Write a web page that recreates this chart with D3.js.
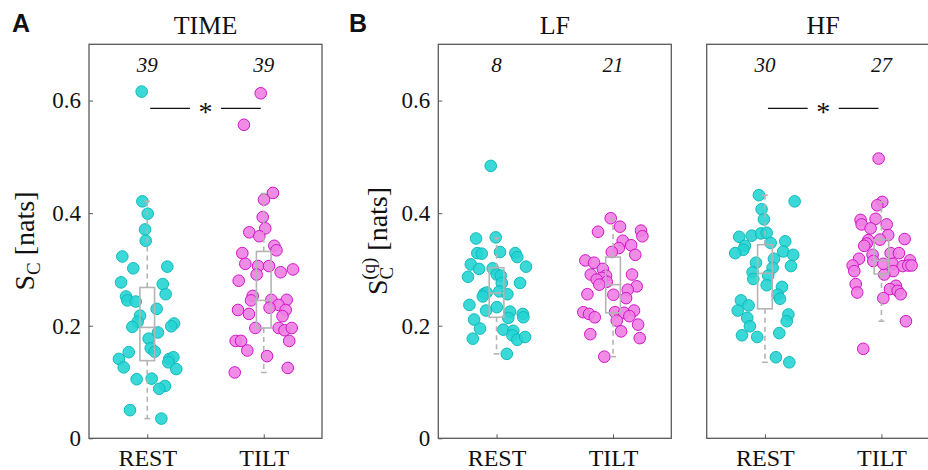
<!DOCTYPE html>
<html>
<head>
<meta charset="utf-8">
<script src="https://cdn.jsdelivr.net/npm/d3@7"></script>
<style>
  body { margin: 0; background: #fff; }
  text { font-family: "Liberation Serif", "Times New Roman", serif; fill: #111; }
</style>
</head>
<body>
<div id="chart"></div>
<script>
// values: [S_C value, horizontal jitter in category units]
var timeRest = [[0.616,-0.048],[0.421,-0.042],[0.399,0.004],[0.371,-0.019],[0.351,-0.013],[0.323,-0.214],[0.302,-0.12],[0.305,0.172],[0.277,-0.225],[0.274,0.133],[0.256,0.158],[0.252,-0.182],[0.245,-0.171],[0.243,-0.099],[0.230,0.081],[0.218,-0.062],[0.207,-0.082],[0.198,-0.128],[0.204,0.230],[0.199,0.206],[0.188,0.092],[0.177,0.012],[0.160,0.030],[0.154,0.064],[0.153,-0.159],[0.141,-0.243],[0.126,-0.202],[0.141,0.189],[0.144,0.224],[0.135,0.181],[0.123,0.249],[0.105,-0.091],[0.106,0.038],[0.093,0.152],[0.088,0.103],[0.050,-0.148],[0.035,0.121]];
var timeTilt = [[0.613,-0.026],[0.557,-0.17],[0.436,0.079],[0.424,0.002],[0.393,-0.009],[0.373,0.013],[0.366,-0.124],[0.359,-0.038],[0.342,0.091],[0.334,0.109],[0.329,-0.184],[0.310,-0.158],[0.306,-0.049],[0.306,0.045],[0.291,-0.061],[0.295,0.145],[0.300,0.251],[0.280,-0.215],[0.253,-0.095],[0.245,-0.109],[0.246,0.065],[0.246,0.197],[0.237,0.127],[0.232,0.05],[0.228,0.188],[0.228,-0.221],[0.221,-0.127],[0.217,0.161],[0.196,-0.072],[0.196,0.128],[0.192,0.178],[0.196,0.24],[0.173,0.219],[0.173,-0.241],[0.173,-0.195],[0.156,-0.141],[0.146,0.028],[0.117,-0.249],[0.125,0.206]];
var lfRest = [[0.484,-0.05],[0.355,-0.176],[0.357,-0.007],[0.331,0.03],[0.329,-0.165],[0.328,-0.127],[0.329,0.161],[0.322,0.178],[0.309,-0.221],[0.305,0.253],[0.301,-0.15],[0.302,-0.033],[0.287,-0.245],[0.291,0.002],[0.289,0.036],[0.276,0.045],[0.276,0.202],[0.257,-0.105],[0.259,-0.084],[0.261,0.024],[0.256,0.093],[0.252,-0.118],[0.237,-0.233],[0.233,0.002],[0.227,-0.09],[0.225,0.116],[0.221,0.225],[0.215,0.230],[0.211,-0.193],[0.214,0.101],[0.195,-0.142],[0.193,0.058],[0.191,0.144],[0.183,0.136],[0.177,-0.204],[0.175,0.178],[0.180,0.245],[0.150,0.088]];
var lfTilt = [[0.391,-0.02],[0.376,0.06],[0.367,-0.129],[0.369,0.24],[0.359,0.252],[0.351,0.083],[0.343,0.155],[0.338,0.049],[0.331,-0.011],[0.326,0.191],[0.316,-0.238],[0.312,-0.163],[0.301,-0.088],[0.291,-0.191],[0.291,0.163],[0.289,-0.06],[0.285,-0.097],[0.282,-0.14],[0.278,-0.054],[0.273,-0.118],[0.270,0.203],[0.264,0.126],[0.256,-0.22],[0.255,0.003],[0.249,0.112],[0.224,-0.255],[0.221,-0.206],[0.215,-0.157],[0.224,0.017],[0.227,0.18],[0.223,0.094],[0.217,0.14],[0.209,0.032],[0.202,0.215],[0.185,-0.195],[0.190,0.069],[0.178,0.229],[0.145,-0.075]];
var hfRest = [[0.432,-0.052],[0.421,0.255],[0.407,-0.029],[0.389,-0.009],[0.358,-0.221],[0.360,-0.114],[0.364,-0.034],[0.365,0.015],[0.342,-0.172],[0.335,-0.186],[0.329,-0.255],[0.347,0.049],[0.350,0.174],[0.332,0.157],[0.326,0.243],[0.319,0.077],[0.306,0.223],[0.312,-0.077],[0.303,0.066],[0.295,-0.106],[0.283,-0.1],[0.289,0.028],[0.272,0.015],[0.269,0.146],[0.255,0.109],[0.248,0.129],[0.245,-0.206],[0.236,-0.14],[0.227,-0.234],[0.220,0.201],[0.208,0.187],[0.214,-0.152],[0.199,-0.129],[0.187,0.123],[0.183,-0.197],[0.180,-0.066],[0.144,0.094],[0.135,0.209]];
var hfTilt = [[0.497,-0.024],[0.420,0.007],[0.414,-0.036],[0.388,-0.179],[0.380,-0.17],[0.390,-0.05],[0.373,-0.093],[0.380,0.045],[0.361,0.058],[0.354,0.199],[0.352,-0.113],[0.346,-0.127],[0.342,-0.148],[0.353,-0.013],[0.329,0.079],[0.329,0.15],[0.326,-0.076],[0.319,-0.193],[0.315,-0.07],[0.310,0.096],[0.316,0.245],[0.306,0.182],[0.307,0.23],[0.307,0.259],[0.307,-0.247],[0.297,-0.233],[0.297,0.101],[0.291,0.024],[0.310,0.016],[0.274,-0.221],[0.259,-0.208],[0.271,0.124],[0.265,0.073],[0.262,0.139],[0.256,0.165],[0.249,0.016],[0.208,0.21],[0.159,-0.156]];

// box stats: [lower whisker, q1, median, q3, upper whisker]
var timeBox = [[0.035,0.138,0.197,0.268,0.421],[0.117,0.196,0.245,0.332,0.435]];
var lfBox   = [[0.150,0.215,0.258,0.303,0.356],[0.145,0.223,0.273,0.322,0.389]];
var hfBox   = [[0.135,0.230,0.293,0.344,0.432],[0.208,0.292,0.316,0.353,0.420]];

var groups = ["REST", "TILT"];
var titles = ["TIME", "LF", "HF"];
var counts = [[39, 39], [8, 21], [30, 27]];
var sigLevel = [0.586, null, 0.586];
var yTicks = [0, 0.2, 0.4, 0.6];

(function() {

var panels = [
  {title: titles[0], pts: [timeRest, timeTilt], box: timeBox, n: counts[0], sig: sigLevel[0], left: 89, yLabels: true},
  {title: titles[1], pts: [lfRest, lfTilt], box: lfBox, n: counts[1], sig: sigLevel[1], left: 438.3, yLabels: true},
  {title: titles[2], pts: [hfRest, hfTilt], box: hfBox, n: counts[2], sig: sigLevel[2], left: 706.7, yLabels: false}
];

var W = 928, H = 470,
    pw = 233, plotTop = 44.3, plotBottom = 438.3;

var colors = [
  {fill: "#26d4d4", stroke: "#10baba"},
  {fill: "#f07fe3", stroke: "#d014c6"}
];

var svg = d3.select("#chart").append("svg")
    .attr("width", W)
    .attr("height", H);

var y = d3.scaleLinear()
    .domain([0, 0.7])
    .range([plotBottom, plotTop]);

panels.forEach(function(p) {
  var x = d3.scaleLinear()
      .domain([0.5, 2.5])
      .range([p.left, p.left + pw]);

  var g = svg.append("g");

  // title
  g.append("text")
    .attr("x", p.left + pw / 2)
    .attr("y", 34)
    .attr("text-anchor", "middle")
    .style("font-size", "26px")
    .text(p.title);

  // counts
  g.selectAll(".cnt")
      .data(p.n)
    .enter().append("text")
      .attr("x", function(d, i) { return x(i + 1); })
      .attr("y", 72)
      .attr("text-anchor", "middle")
      .style("font-size", "21px")
      .style("font-style", "italic")
      .text(function(d) { return d; });

  // points
  p.pts.forEach(function(arr, gi) {
    g.selectAll(".dot" + gi)
        .data(arr)
      .enter().append("circle")
        .attr("cx", function(d) { return x(gi + 1 + d[1]); })
        .attr("cy", function(d) { return y(d[0]); })
        .attr("r", 5.8)
        .style("fill", colors[gi].fill)
        .style("fill-opacity", 0.9)
        .style("stroke", colors[gi].stroke)
        .style("stroke-width", 1);
  });

  // boxplots
  p.box.forEach(function(b, gi) {
    var cx = x(gi + 1), hw = x(1.063) - x(1), cw = x(1.025) - x(1);
    var bg = g.append("g")
        .style("stroke", "#b4b4b4")
        .style("stroke-width", 1.6)
        .style("fill", "none");
    bg.append("line")
      .attr("x1", cx).attr("x2", cx)
      .attr("y1", y(b[3])).attr("y2", y(b[4]))
      .style("stroke-dasharray", "5,4");
    bg.append("line")
      .attr("x1", cx).attr("x2", cx)
      .attr("y1", y(b[1])).attr("y2", y(b[0]))
      .style("stroke-dasharray", "5,4");
    [b[0], b[4]].forEach(function(v) {
      bg.append("line")
        .attr("x1", cx - cw).attr("x2", cx + cw)
        .attr("y1", y(v)).attr("y2", y(v));
    });
    bg.append("rect")
      .attr("x", cx - hw)
      .attr("y", y(b[3]))
      .attr("width", 2 * hw)
      .attr("height", y(b[1]) - y(b[3]));
    bg.append("line")
      .attr("x1", cx - hw).attr("x2", cx + hw)
      .attr("y1", y(b[2])).attr("y2", y(b[2]));
  });

  // frame
  g.append("rect")
    .attr("x", p.left)
    .attr("y", plotTop)
    .attr("width", pw)
    .attr("height", plotBottom - plotTop)
    .style("fill", "none")
    .style("stroke", "#5a5a5a")
    .style("stroke-width", 1.3);

  // axes
  var xAxis = g.append("g")
      .attr("transform", "translate(0," + plotBottom + ")")
      .call(d3.axisBottom(x)
        .tickValues([1, 2])
        .tickFormat(function(d) { return groups[d - 1]; })
        .tickSizeInner(-4).tickSizeOuter(0).tickPadding(11));
  xAxis.select(".domain").remove();
  xAxis.selectAll("line").attr("stroke", "#5a5a5a");
  xAxis.selectAll("text")
    .style("font-size", "24px")
    .style("font-family", "Liberation Serif")
    .attr("fill", "#111");

  if (p.yLabels) {
    var yAxis = g.append("g")
        .attr("transform", "translate(" + p.left + ",0)")
        .call(d3.axisLeft(y)
          .tickValues(yTicks)
          .tickFormat(function(d) { return d === 0 ? "0" : d3.format(".1f")(d); })
          .tickSizeInner(-4).tickSizeOuter(0).tickPadding(8));
    yAxis.select(".domain").remove();
    yAxis.selectAll("line").attr("stroke", "#5a5a5a");
    yAxis.selectAll("text")
      .style("font-size", "23px")
      .style("font-family", "Liberation Serif")
      .attr("fill", "#111");
  }

  // significance bar
  if (p.sig !== null) {
    var x1 = x(1) + 3, x2 = x(2) - 3, mid = (x(1) + x(2)) / 2, gap = 15.5;
    g.append("line")
      .attr("x1", x1).attr("x2", mid - gap)
      .attr("y1", y(p.sig)).attr("y2", y(p.sig))
      .style("stroke", "#111").style("stroke-width", 1.3);
    g.append("line")
      .attr("x1", mid + gap).attr("x2", x2)
      .attr("y1", y(p.sig)).attr("y2", y(p.sig))
      .style("stroke", "#111").style("stroke-width", 1.3);
    g.append("text")
      .attr("x", mid)
      .attr("y", y(p.sig) + 13)
      .attr("text-anchor", "middle")
      .style("font-size", "28px")
      .text("*");
  }
});

// y labels
var lab1 = svg.append("text")
    .attr("transform", "translate(34,241) rotate(-90)")
    .attr("text-anchor", "middle")
    .style("font-size", "28px");
lab1.append("tspan").text("S");
lab1.append("tspan").attr("dy", 6).style("font-size", "19px").text("C");
lab1.append("tspan").attr("dy", -6).text(" [nats]");

var lab2 = svg.append("text")
    .attr("transform", "translate(387,241) rotate(-90)")
    .attr("text-anchor", "middle")
    .style("font-size", "28px");
lab2.append("tspan").text("S");
lab2.append("tspan").attr("dy", 6).style("font-size", "19px").text("C");
lab2.append("tspan").attr("dx", -13).attr("dy", -18).style("font-size", "19px").text("(q)");
lab2.append("tspan").attr("dy", 12).text(" [nats]");

// panel letters
[["A", 12], ["B", 349]].forEach(function(l) {
  svg.append("text")
    .attr("x", l[1])
    .attr("y", 32)
    .style("font-family", "Liberation Sans, Arial, sans-serif")
    .style("font-weight", "bold")
    .style("font-size", "25px")
    .text(l[0]);
});

})()
</script>
</body>
</html>
